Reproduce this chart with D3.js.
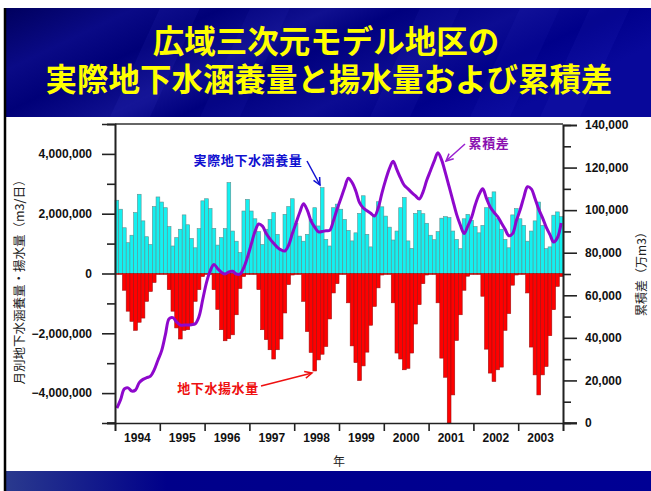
<!DOCTYPE html>
<html><head><meta charset="utf-8">
<script src="https://cdn.jsdelivr.net/npm/d3@7"></script>
<style>body{margin:0;background:#fff;}svg{display:block;}</style>
</head><body>
<svg id="c" width="651" height="491"></svg>
<script>
// ---------------- data ----------------
const years = ["1994","1995","1996","1997","1998","1999","2000","2001","2002","2003"];
// monthly actual groundwater recharge (m3/day), Jan 1994 .. Dec 2003
const recharge = [
 2450000,2150000,1530000,1030000,1280000,2040000,2650000,1760000,1230000,970000,2240000,2560000,
 2390000,2200000,1570000,920000,1200000,1480000,1960000,1630000,1170000,860000,1500000,2430000,
 2500000,2170000,1510000,950000,1200000,1500000,3040000,1420000,1080000,700000,2090000,2480000,
 2090000,1830000,1400000,970000,1480000,1810000,2040000,1310000,810000,1980000,2240000,2500000,
 1680000,1250000,1080000,1310000,1810000,2200000,1590000,2870000,1140000,920000,2200000,2320000,
 2150000,1810000,1440000,1090000,1360000,2010000,2600000,1310000,890000,1980000,2400000,2230000,
 1920000,1550000,1120000,1420000,2200000,2540000,1090000,840000,2010000,2110000,2000000,1680000,
 1280000,1130000,1400000,1850000,1900000,1870000,1420000,1140000,830000,1830000,1980000,1780000,
 1570000,1360000,1610000,2200000,2540000,2730000,1830000,1480000,1140000,860000,1960000,2170000,
 1830000,1610000,1080000,1420000,1760000,2390000,1610000,830000,890000,1950000,2060000,1900000
];
// monthly groundwater pumping (m3/day, negative)
const pumping = [
 -30000,-30000,-560000,-1260000,-1600000,-1900000,-1630000,-1490000,-930000,-600000,-300000,-30000,
 -30000,-30000,-540000,-1260000,-1820000,-2190000,-1900000,-1880000,-1690000,-930000,-540000,-100000,
 -30000,-30000,-540000,-1200000,-1880000,-2250000,-2180000,-2050000,-1380000,-500000,-100000,-30000,
 -30000,-30000,-540000,-1880000,-2210000,-2550000,-2860000,-2550000,-2190000,-1320000,-370000,-50000,
 -30000,-30000,-930000,-1940000,-2640000,-3260000,-2890000,-2700000,-2440000,-1520000,-650000,-340000,
 -30000,-30000,-980000,-2420000,-2980000,-3580000,-3090000,-2630000,-1730000,-1100000,-480000,-50000,
 -30000,-30000,-980000,-2660000,-2860000,-3220000,-3170000,-2660000,-1690000,-1040000,-340000,-50000,
 -30000,-30000,-980000,-2830000,-3470000,-5000000,-4060000,-2240000,-1380000,-560000,-90000,-30000,
 -30000,-30000,-760000,-2530000,-3330000,-3610000,-3220000,-3130000,-1900000,-1340000,-390000,-50000,
 -30000,-30000,-650000,-2460000,-3390000,-4060000,-3390000,-3110000,-2080000,-1210000,-430000,-100000
];
// cumulative difference (万m3)
const cumulative = [
 7000,11000,16000,16500,15000,15500,19000,20500,21300,22000,25000,29500,
 34000,41500,49000,49500,47500,46000,46000,46000,46200,46600,50000,58000,
 66000,71500,74500,72500,70800,70000,71000,71300,70000,70000,73000,78000,
 84000,90000,93500,92500,89000,86500,84400,82500,81300,80800,83500,89000,
 94000,99000,103000,100000,95000,92000,89800,90000,90300,90500,95000,100500,
 105500,110500,115000,113000,109000,103500,101000,99700,98500,97200,101000,108000,
 114200,119500,123000,119000,115000,111600,110000,108200,106700,105200,108500,114000,
 118500,123000,127000,123500,117500,111000,104500,98000,93000,89000,92500,96500,
 102500,107300,110000,105500,101500,99000,97000,94000,91000,88000,89000,95000,
 100000,106000,111000,110000,105500,100500,96500,92000,88500,85000,87000,94000
];
const leftTicks = [-5000000,-4000000,-3000000,-2000000,-1000000,0,1000000,2000000,3000000,4000000,5000000];
const rightTicks = [0,10000,20000,30000,40000,50000,60000,70000,80000,90000,100000,110000,120000,130000,140000];

// ---------------- drawing ----------------
const svg = d3.select("#c");
const L = 115, R = 563, T = 124, B = 423;
const months = d3.range(recharge.length);

const defs = svg.append("defs");
const g1 = defs.append("linearGradient").attr("id","hdr").attr("x1","0").attr("y1","0").attr("x2","1").attr("y2","0.35");
[["0","#00005e"],["0.18","#0a0a86"],["0.3","#000078"],["0.45","#101090"],["0.55","#00007e"],["0.72","#0c0c92"],["0.85","#00008a"],["1","#08089a"]]
  .forEach(s=>g1.append("stop").attr("offset",s[0]).attr("stop-color",s[1]));
const g2 = defs.append("linearGradient").attr("id","ftr").attr("x1","0").attr("y1","0").attr("x2","1").attr("y2","0");
[["0","#2a3a8e"],["0.25","#00008a"],["1","#000094"]].forEach(s=>g2.append("stop").attr("offset",s[0]).attr("stop-color",s[1]));

svg.append("rect").attr("width",651).attr("height",491).attr("fill","#fff");
svg.append("rect").attr("x",5).attr("y",8).attr("width",646).attr("height",109).attr("fill","url(#hdr)");
[[160,0.07],[250,0.05],[420,0.06],[520,0.05],[590,0.06]].forEach(([sx,op])=>{
  svg.append("path").attr("d",`M${sx},8 L${sx+40},8 L${sx-10},117 L${sx-50},117 Z`).attr("fill","#6a6aff").attr("opacity",op);
});
svg.append("rect").attr("x",5).attr("y",471).attr("width",646).attr("height",20).attr("fill","url(#ftr)");
svg.append("line").attr("x1",5).attr("x2",5).attr("y1",8).attr("y2",491).attr("stroke","#000").attr("stroke-width",2.5);

// title
const tfont = "bold 31.5px 'Liberation Sans', 'Noto Sans CJK JP', sans-serif";
svg.append("text").attr("x",326).attr("y",53).attr("text-anchor","middle")
  .style("font",tfont).attr("fill","#ffff00").text("広域三次元モデル地区の");
svg.append("text").attr("x",329).attr("y",91).attr("text-anchor","middle")
  .style("font",tfont).attr("fill","#ffff00").text("実際地下水涵養量と揚水量および累積差");

// scales
const x = d3.scaleBand().domain(months).range([L,R]).padding(0);
const yL = d3.scaleLinear().domain([-5000000,5000000]).range([B,T]);
const yR = d3.scaleLinear().domain([0,140000]).range([B,T+1]);
const xYear = d3.scaleLinear().domain([0,years.length]).range([L,R]);
const xYearBand = d3.scaleBand().domain(years).range([L,R]);

// bars
svg.append("g").selectAll("rect").data(recharge).join("rect")
  .attr("x",(d,i)=>x(i)).attr("width",x.bandwidth())
  .attr("y",d=>yL(d)).attr("height",d=>yL(0)-yL(d))
  .attr("fill","#14f0f0").attr("stroke","#5f8f8f").attr("stroke-width",0.6);
svg.append("g").selectAll("rect").data(pumping).join("rect")
  .attr("x",(d,i)=>x(i)).attr("width",x.bandwidth())
  .attr("y",yL(0)).attr("height",d=>yL(d)-yL(0))
  .attr("fill","#ff0000").attr("stroke","#a01010").attr("stroke-width",0.6);

// cumulative line
svg.append("path").datum(cumulative)
  .attr("d",d3.line().x((d,i)=>x(i)+x.bandwidth()/2).y(d=>yR(d)).curve(d3.curveCatmullRom.alpha(0.5)))
  .attr("fill","none").attr("stroke","#8e08cc").attr("stroke-width",3).attr("stroke-linejoin","round");

// frame top
svg.append("line").attr("x1",L).attr("x2",R).attr("y1",T).attr("y2",T).attr("stroke","#333").attr("stroke-width",1.5);

const axisStyle = g=>{g.selectAll("path,line").attr("stroke","#222").attr("stroke-width",1.6);
  g.selectAll("text").style("font","bold 12px 'Liberation Sans', Arial, sans-serif").attr("fill","#111");};

svg.append("g").attr("transform",`translate(${L},0)`)
  .call(d3.axisLeft(yL).tickValues(leftTicks.filter(v=>v%2000000!==0)).tickSize(8).tickFormat(""))
  .call(axisStyle);
svg.append("g").attr("transform",`translate(${L},0)`)
  .call(d3.axisLeft(yL).tickValues(leftTicks.filter(v=>v%2000000===0)).tickSize(13).tickPadding(10).tickFormat(d3.format(",")))
  .call(axisStyle);
svg.append("g").attr("transform",`translate(${R},0)`)
  .call(d3.axisRight(yR).tickValues(rightTicks.filter(v=>v%20000!==0)).tickSize(8).tickFormat(""))
  .call(axisStyle);
svg.append("g").attr("transform",`translate(${R},0)`)
  .call(d3.axisRight(yR).tickValues(rightTicks.filter(v=>v%20000===0)).tickSize(14).tickPadding(8).tickFormat(d3.format(",")))
  .call(axisStyle);
svg.append("g").attr("transform",`translate(0,${B})`)
  .call(d3.axisBottom(xYear).tickValues(d3.range(years.length+1)).tickSize(8).tickFormat(""))
  .call(axisStyle);
svg.append("g").attr("transform",`translate(0,${B})`)
  .call(d3.axisBottom(xYearBand).tickSize(0).tickPadding(10))
  .call(axisStyle).call(g=>g.select(".domain").remove());
svg.append("line").attr("x1",107).attr("x2",L).attr("y1",B).attr("y2",B).attr("stroke","#222").attr("stroke-width",1.6);
svg.append("line").attr("x1",R).attr("x2",577).attr("y1",B).attr("y2",B).attr("stroke","#222").attr("stroke-width",1.6);

// axis titles
const jf = "'Noto Sans CJK JP', sans-serif";
svg.append("text").attr("x",339).attr("y",460).attr("text-anchor","middle").attr("dominant-baseline","central")
  .style("font",`12px ${jf}`).attr("fill","#222").text("年");
svg.append("text").attr("transform","translate(18,279) rotate(-90)").attr("text-anchor","middle").attr("dominant-baseline","central")
  .style("font",`12.5px ${jf}`).attr("fill","#222").text("月別地下水涵養量・揚水量（m3/日）");
svg.append("text").attr("transform","translate(640,271) rotate(-90)").attr("text-anchor","middle").attr("dominant-baseline","central")
  .style("font",`12px ${jf}`).attr("fill","#222").text("累積差（万m3）");

// annotations
function arrow(x1,y1,x2,y2,color,w){
  svg.append("line").attr("x1",x1).attr("y1",y1).attr("x2",x2).attr("y2",y2).attr("stroke",color).attr("stroke-width",w);
  const a=Math.atan2(y2-y1,x2-x1), h=8, s=0.45;
  const p1=[x2-h*Math.cos(a-s),y2-h*Math.sin(a-s)], p2=[x2-h*Math.cos(a+s),y2-h*Math.sin(a+s)];
  svg.append("path").attr("d",`M${p1[0]},${p1[1]} L${x2},${y2} L${p2[0]},${p2[1]}`).attr("fill","none").attr("stroke",color).attr("stroke-width",w);
}
svg.append("text").attr("x",248).attr("y",159).attr("text-anchor","middle").attr("dominant-baseline","central")
  .style("font",`bold 13px ${jf}`).style("letter-spacing","0.6px").attr("fill","#1010d0").text("実際地下水涵養量");
arrow(307,161,320,185,"#1010d0",1.5);
svg.append("text").attr("x",489).attr("y",142).attr("text-anchor","middle").attr("dominant-baseline","central")
  .style("font",`bold 13px ${jf}`).style("letter-spacing","0.6px").attr("fill","#8a10b0").text("累積差");
arrow(465,144,446,161,"#9a20d0",1.5);
svg.append("text").attr("x",218).attr("y",387).attr("text-anchor","middle").attr("dominant-baseline","central")
  .style("font",`bold 13px ${jf}`).style("letter-spacing","0.6px").attr("fill","#ee1010").text("地下水揚水量");
arrow(261,386,312,373,"#ee1010",1.5);
</script>
</body></html>
